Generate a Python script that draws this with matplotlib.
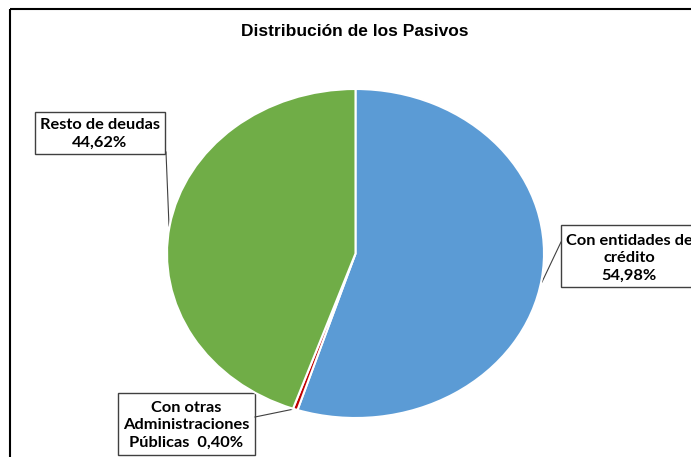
import matplotlib.pyplot as plt
from matplotlib.patches import Rectangle

title = "Distribución de los Pasivos"
categories = ["Con entidades de\ncrédito", "Con otras\nAdministraciones\nPúblicas", "Resto de deudas"]
values = [54.98, 0.40, 44.62]
pct_labels = ["54,98%", "0,40%", "44,62%"]
colors = ["#5B9BD5", "#C00000", "#70AD47"]

W, H = 691, 457
fig = plt.figure(figsize=(W / 100, H / 100), dpi=100)

# overlay axes in pixel coords for frame, title and label boxes
ov = fig.add_axes([0, 0, 1, 1])
ov.set_xlim(0, W)
ov.set_ylim(H, 0)
ov.axis("off")

# pie axes: elliptical pie, as in the original
left, right, top, bottom = 167, 544, 89, 418
pax = fig.add_axes([left / W, (H - bottom) / H, (right - left) / W, (bottom - top) / H])
pax.pie(values, colors=colors, startangle=90, counterclock=False,
        wedgeprops=dict(edgecolor="white", linewidth=1.5))
pax.set_aspect("auto")
pax.set_xlim(-1, 1)
pax.set_ylim(-1, 1)

# outer chart frame (cut off on right and bottom)
ov.add_patch(Rectangle((10, 9), W, H, fill=False, edgecolor="black", linewidth=1.5))

ov.text(355, 32, title, ha="center", va="center", fontsize=12.5,
        fontweight="bold", family="Liberation Sans")

lab_font = dict(fontsize=11.8, fontweight="bold", family=["Lato", "DejaVu Sans"],
                ha="center", va="center", linespacing=1.3)

# label boxes (x0, y0, x1, y1), text centre, leader line
boxes = [
    ((561, 225, 698, 287), (629, 258), [(561, 242), (542, 282)]),
    ((118, 393, 255, 455), (186, 425), [(255, 417), (294, 409)]),
    ((35, 112, 165, 154), (100, 134), [(166, 152), (169, 226)]),
]
texts = [
    categories[0] + "\n" + pct_labels[0],
    categories[1] + "  " + pct_labels[1],
    categories[2] + "\n" + pct_labels[2],
]
for ((x0, y0, x1, y1), (tx, ty), line), txt in zip(boxes, texts):
    ov.add_patch(Rectangle((x0, y0), x1 - x0, y1 - y0, facecolor="white",
                           edgecolor="#404040", linewidth=1))
    ov.plot([line[0][0], line[1][0]], [line[0][1], line[1][1]], color="#404040", linewidth=0.8)
    ov.text(tx, ty, txt, **lab_font)

fig.savefig("out.png", dpi=100)
